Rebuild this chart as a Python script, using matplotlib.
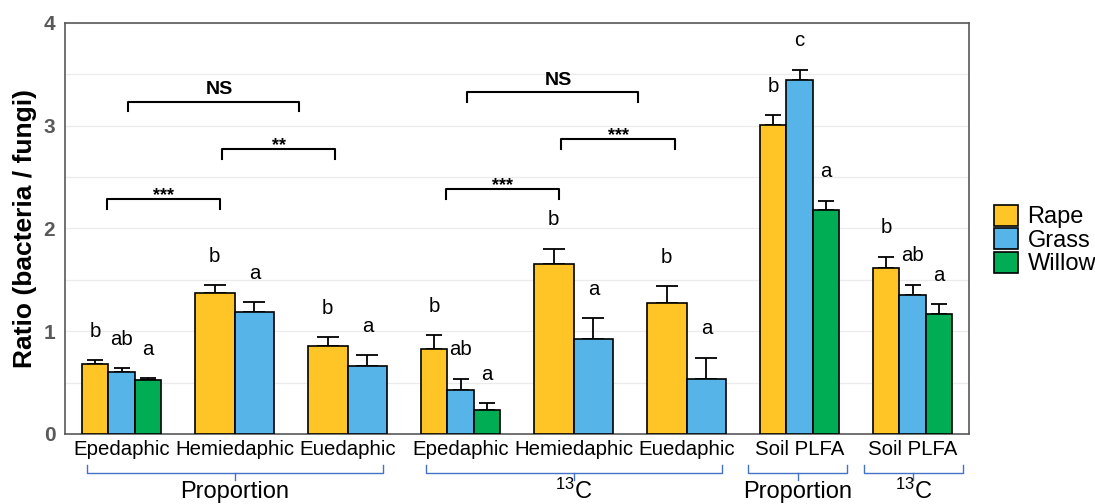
import numpy as np
import matplotlib.pyplot as plt
import matplotlib.transforms as mtransforms
from matplotlib.ticker import MultipleLocator

plt.rcParams['font.family'] = ['Liberation Sans', 'DejaVu Sans']
plt.rcParams['mathtext.default'] = 'regular'

# Data
groups = ['Epedaphic', 'Hemiedaphic', 'Euedaphic',
          'Epedaphic', 'Hemiedaphic', 'Euedaphic',
          'Soil PLFA', 'Soil PLFA']

rape = [0.678, 1.375, 0.856, 0.827, 1.658, 1.272, 3.010, 1.619]
rape_err = [0.042, 0.072, 0.088, 0.136, 0.145, 0.168, 0.095, 0.107]
rape_letters = ['b', 'b', 'b', 'b', 'b', 'b', 'b', 'b']

grass = [0.606, 1.184, 0.665, 0.428, 0.921, 0.532, 3.442, 1.356]
grass_err = [0.036, 0.101, 0.101, 0.110, 0.205, 0.211, 0.104, 0.097]
grass_letters = ['ab', 'a', 'a', 'ab', 'a', 'a', 'c', 'ab']

willow = [0.525, np.nan, np.nan, 0.230, np.nan, np.nan, 2.180, 1.168]
willow_err = [0.020, np.nan, np.nan, 0.070, np.nan, np.nan, 0.090, 0.094]
willow_letters = ['a', '', '', 'a', '', '', 'a', 'a']

# significance brackets: (left, right, height, text)
comparisons = [(-0.131, 0.871, 2.284, '***'),
               (0.889, 1.891, 2.774, '**'),
               (0.055, 1.573, 3.234, 'NS'),
               (2.870, 3.872, 2.384, '***'),
               (3.893, 4.895, 2.868, '***'),
               (3.053, 4.571, 3.325, 'NS')]

# lower brackets under the x labels: (centre, half width, text)
sections = [(1.004, 1.309, 'Proportion'),
            (4.003, 1.310, '$^{13}$C'),
            (5.982, 0.442, 'Proportion'),
            (7.008, 0.442, '$^{13}$C')]

series = [(rape, rape_err, rape_letters, '#FFC425', 'Rape'),
          (grass, grass_err, grass_letters, '#56B4E9', 'Grass'),
          (willow, willow_err, willow_letters, '#00AD55', 'Willow')]

fig = plt.figure(figsize=(10.95, 5.04), dpi=100)
ax = fig.add_axes([0.0594, 0.1389, 0.8256, 0.8155])

x = np.arange(len(groups))
for i in range(len(groups)):
    present = [s for s in series if not np.isnan(s[0][i])]
    n = len(present)
    w = 0.7 / n
    cap = 5.5 if n == 3 else 8
    for j, (vals, errs, lets, col, name) in enumerate(present):
        xi = x[i] + (j - (n - 1) / 2) * w
        ax.bar(xi, vals[i], w, color=col, edgecolor='black', linewidth=1.2,
               zorder=3, label=name if i == 0 else None)
        ax.errorbar(xi, vals[i], yerr=[[0], [errs[i]]], fmt='none',
                    ecolor='black', elinewidth=1.3, capsize=cap,
                    capthick=1.3, zorder=2)
        ax.text(xi, vals[i] + errs[i] + 0.228, lets[i], ha='center',
                va='baseline', fontsize=14.7)

leg = 0.095
for x0, x1, y, txt in comparisons:
    ax.plot([x0, x0, x1, x1], [y - leg, y, y, y - leg], color='black',
            lw=1.5, zorder=4)
    if txt == 'NS':
        ax.text((x0 + x1) / 2 + 0.055, y + 0.07, txt, ha='center',
                va='baseline', fontsize=14, fontweight='bold')
    else:
        ax.text((x0 + x1) / 2, y - 0.01, txt, ha='center', va='baseline',
                fontsize=13, fontweight='bold')

trans = mtransforms.blended_transform_factory(ax.transData, ax.transAxes)
for c, hw, txt in sections:
    ax.plot([c - hw, c - hw, c + hw, c + hw], [-0.075, -0.095, -0.095, -0.075],
            color='#4472C4', lw=1, transform=trans, clip_on=False)
    ax.plot([c, c], [-0.095, -0.112], color='#4472C4', lw=1,
            transform=trans, clip_on=False)
    ax.text(c, -0.14, txt, ha='center', va='center', fontsize=17,
            transform=trans)

ax.set_xlim(-0.5, 7.5)
ax.set_ylim(0, 4)
ax.set_xticks(x)
ax.set_xticklabels(groups, fontsize=14.7)
ax.set_yticks([0, 1, 2, 3, 4])
ax.set_yticklabels(['0', '1', '2', '3', '4'], fontsize=15,
                   fontweight='bold', color='#595959')
ax.yaxis.set_minor_locator(MultipleLocator(0.5))
ax.tick_params(axis='y', which='both', length=0, pad=7)
ax.tick_params(axis='x', length=0, pad=4)
ax.grid(axis='y', which='both', color='#EBEBEB', lw=0.9, zorder=0)
ax.set_axisbelow(True)
for sp in ax.spines.values():
    sp.set_color('#595959')
    sp.set_linewidth(1.2)

fig.text(25 / 1095, 1 - 229 / 504, 'Ratio (bacteria / fungi)', rotation=90,
         ha='center', va='center', fontsize=19, fontweight='bold')

ax.legend(loc='center left', bbox_to_anchor=(994 / 1095, 1 - 240 / 504),
          bbox_transform=fig.transFigure, frameon=False, fontsize=17,
          handlelength=1.0, handleheight=1.0, handletextpad=0.42,
          labelspacing=0.0, borderpad=0, borderaxespad=0)

plt.savefig('out.png', dpi=100)
